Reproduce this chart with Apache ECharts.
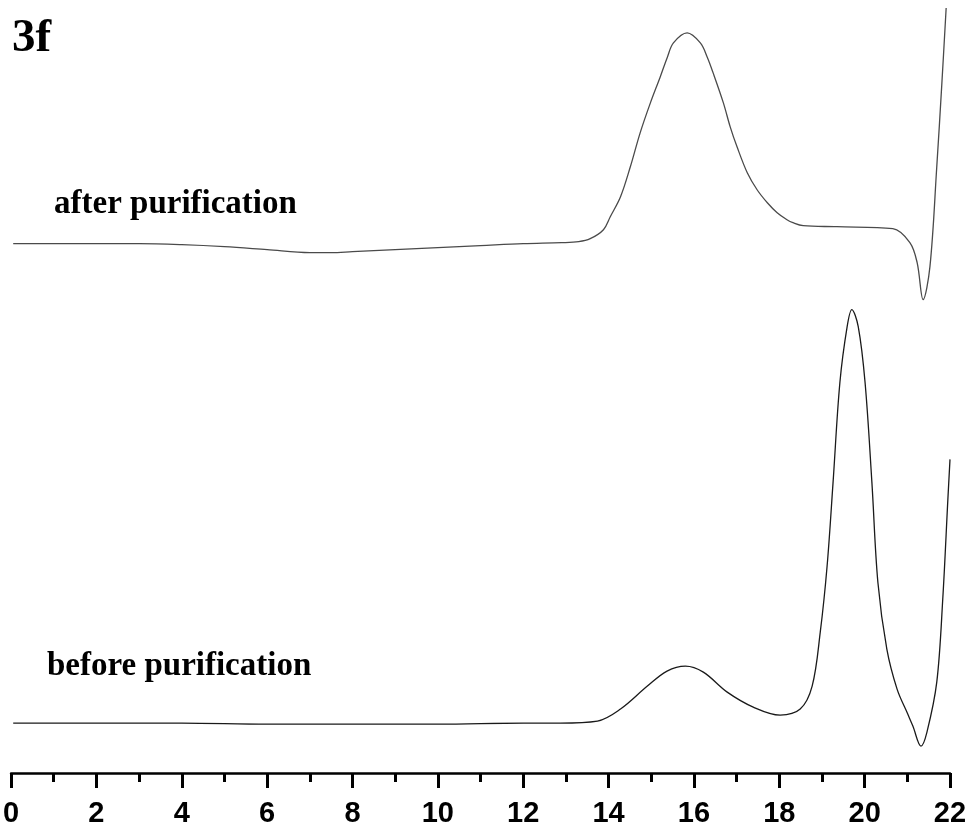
<!DOCTYPE html>
<html>
<head>
<meta charset="utf-8">
<script src="https://cdn.jsdelivr.net/npm/echarts@6/dist/echarts.min.js"></script>
<style>
  html, body { margin: 0; padding: 0; background: #fff; }
  #main { width: 972px; height: 828px; }
</style>
</head>
<body>
<div id="main"></div>
<script>
// elution time (x) and detector response (arbitrary units, traces stacked)
var afterX = [0.05, 1, 2, 3, 4, 5, 6, 7, 7.5, 8, 9, 10, 11, 12, 12.9, 13.3, 13.57, 13.88, 14.04, 14.28, 14.51, 14.74, 14.98, 15.21, 15.38, 15.52, 15.84, 16.15, 16.31, 16.45, 16.69, 16.85, 17.01, 17.25, 17.48, 17.72, 17.95, 18.18, 18.32, 18.56, 19.35, 20.66, 21.06, 21.23, 21.37, 21.53, 21.69, 21.81, 21.91];
var afterY = [530, 530, 530, 530, 529, 527, 524, 521, 521, 522, 524, 526, 528, 530, 531, 532, 535, 544, 557, 577, 607, 641, 671, 697, 717, 731, 741, 731, 717, 701, 671, 647, 627, 601, 584, 571, 561, 554, 551, 548, 547, 545, 531, 511, 474, 507, 607, 691, 766];

var beforeX = [0.05, 2, 4, 6, 8, 10, 12, 12.87, 13.74, 14.28, 14.91, 15.37, 15.8, 16.22, 16.78, 17.39, 18.02, 18.49, 18.77, 18.96, 19.12, 19.26, 19.42, 19.59, 19.7, 19.85, 20.01, 20.17, 20.31, 20.52, 20.76, 21.01, 21.13, 21.32, 21.46, 21.69, 21.83, 21.95, 22.0];
var beforeY = [50, 50, 50, 49, 49, 49, 50, 50, 52, 64, 87, 102, 107, 101, 81, 66, 58, 64, 87, 141, 207, 291, 391, 447, 464, 447, 391, 291, 191, 124, 84, 59, 47, 27, 41, 91, 174, 274, 314];

var xTicks = [0, 2, 4, 6, 8, 10, 12, 14, 16, 18, 20, 22];

function pairs(xs, ys) {
  return xs.map(function (x, i) { return [x, ys[i]]; });
}

var myChart = echarts.init(document.getElementById('main'));
var option = {
  animation: false,
  backgroundColor: '#fff',
  grid: { left: 10, right: 22, top: 0, bottom: 54, containLabel: false },
  xAxis: {
    type: 'value',
    min: 0,
    max: 22,
    interval: 2,
    axisLine: { show: true, lineStyle: { color: '#000', width: 2.5 } },
    axisTick: { show: true, inside: false, length: 15, lineStyle: { color: '#000', width: 3 } },
    minorTick: { show: true, splitNumber: 2, length: 9, lineStyle: { color: '#000', width: 3 } },
    splitLine: { show: false },
    axisLabel: {
      margin: 26,
      color: '#000',
      fontFamily: 'Liberation Sans, Arial, sans-serif',
      fontWeight: 'bold',
      fontSize: 29,
      formatter: function (v) { return xTicks.indexOf(v) >= 0 ? String(v) : ''; }
    }
  },
  yAxis: {
    type: 'value',
    min: 0,
    max: 774,
    show: false
  },
  series: [
    {
      name: 'after purification',
      type: 'line',
      data: pairs(afterX, afterY),
      showSymbol: false,
      smooth: 0.35,
      lineStyle: { color: '#4a4a4a', width: 1.3 }
    },
    {
      name: 'before purification',
      type: 'line',
      data: pairs(beforeX, beforeY),
      showSymbol: false,
      smooth: 0.35,
      lineStyle: { color: '#1a1a1a', width: 1.3 }
    }
  ],
  graphic: [
    {
      type: 'text', left: 12, top: 15,
      style: { text: '3f', fill: '#000', font: 'bold 47px "Liberation Serif", "Times New Roman", serif' }
    },
    {
      type: 'text', left: 54, top: 188,
      style: { text: 'after purification', fill: '#000', font: 'bold 33px "Liberation Serif", "Times New Roman", serif' }
    },
    {
      type: 'text', left: 47, top: 650,
      style: { text: 'before purification', fill: '#000', font: 'bold 33px "Liberation Serif", "Times New Roman", serif' }
    }
  ]
};
myChart.setOption(option);
</script>
</body>
</html>
